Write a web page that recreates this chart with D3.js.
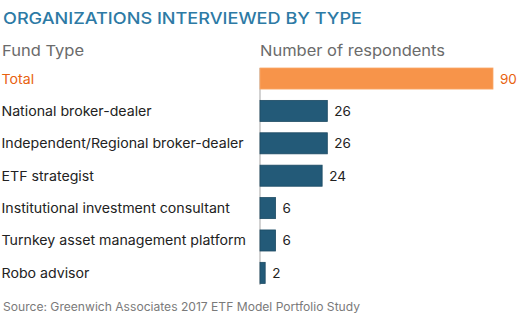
<!DOCTYPE html>
<html><head><meta charset="utf-8">
<script src="https://cdn.jsdelivr.net/npm/d3@7"></script>
<style>body{margin:0;background:#fff}</style>
</head><body>
<script>
const categories = ["Total","National broker-dealer","Independent/Regional broker-dealer","ETF strategist","Institutional investment consultant","Turnkey asset management platform","Robo advisor"];
const values = [90,26,26,24,6,6,2];
const title = "ORGANIZATIONS INTERVIEWED BY TYPE";
const leftHeader = "Fund Type";
const rightHeader = "Number of respondents";
const source = "Source: Greenwich Associates 2017 ETF Model Portfolio Study";

const W=518,H=325;
const svg=d3.select("body").append("svg").attr("width",W).attr("height",H);
const font="Inter, 'Open Sans', sans-serif";
const x=d3.scaleLinear().domain([0,90]).range([260,493]);
const y=d3.scaleBand().domain(categories).range([68,283.4]).paddingInner(0.35).paddingOuter(0);

function fit(sel,w){sel.attr("textLength",w).attr("lengthAdjust","spacingAndGlyphs");}
function stretch(sel,f){sel.each(function(){const t=d3.select(this);const w=this.getComputedTextLength();t.attr("textLength",w*f).attr("lengthAdjust","spacingAndGlyphs");});}

svg.append("text").attr("x",3).attr("y",24).text(title)
  .attr("font-family",font).attr("font-size",16).attr("font-weight",500).attr("fill","#2d7aa5").call(fit,359);
svg.append("text").attr("x",2).attr("y",56).text(leftHeader)
  .attr("font-family",font).attr("font-size",15).attr("fill","#6b6b6b").call(fit,82);
svg.append("text").attr("x",260).attr("y",56).text(rightHeader)
  .attr("font-family",font).attr("font-size",15).attr("fill","#6b6b6b").call(fit,185);

svg.append("line").attr("x1",260).attr("x2",260).attr("y1",68).attr("y2",285)
  .attr("stroke","#b5b5b5").attr("stroke-width",1.2);

const g=svg.selectAll("g.bar").data(categories).join("g");
g.append("rect").attr("x",x(0)).attr("y",d=>y(d)).attr("height",y.bandwidth())
  .attr("width",(d,i)=>x(values[i])-x(0))
  .attr("fill",(d,i)=>i===0?"#f7944a":"#235a78")
  .attr("stroke",(d,i)=>i===0?"#f9a869":"#1c4a63").attr("stroke-width",0.8);
g.append("text").attr("x",(d,i)=>x(values[i])+7).attr("y",d=>y(d)+y.bandwidth()/2+5)
  .text((d,i)=>values[i]).attr("font-family",font).attr("font-size",13.5)
  .attr("fill",(d,i)=>i===0?"#e8620f":"#222");
g.append("text").attr("x",1.5).attr("y",d=>y(d)+y.bandwidth()/2+5)
  .text(d=>d).attr("font-family",font).attr("font-size",13.3)
  .attr("fill",(d,i)=>i===0?"#e8620f":"#222").call(stretch,1.065);

svg.append("text").attr("x",3).attr("y",311).text(source)
  .attr("font-family",font).attr("font-size",11.5).attr("fill","#7a7a7a").call(fit,357);
</script>
</body></html>
